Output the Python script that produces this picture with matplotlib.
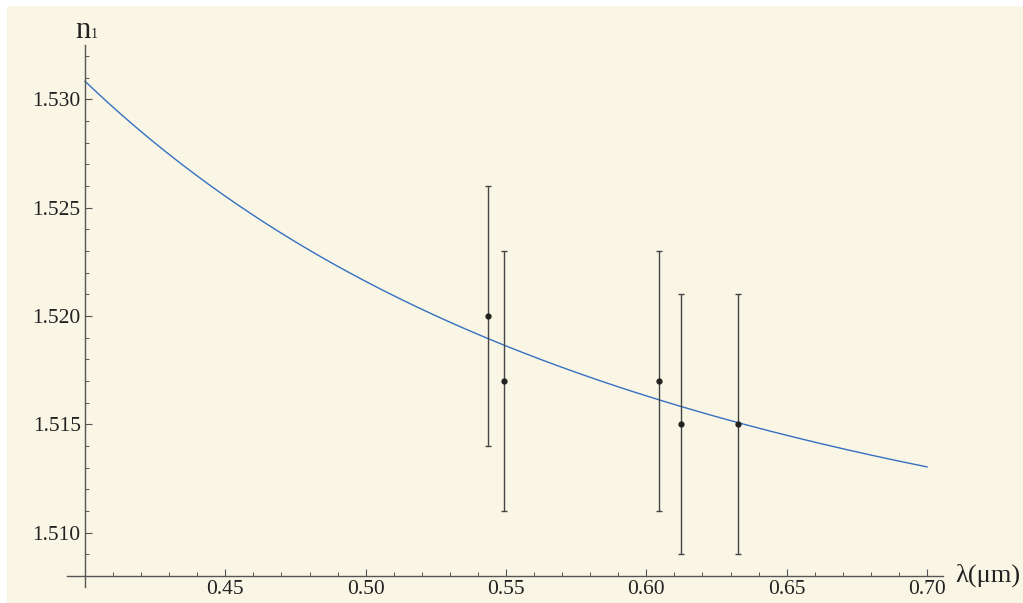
import numpy as np
import matplotlib.pyplot as plt
from matplotlib.patches import Rectangle

# measured points (wavelength in um, index n1, uncertainty)
wavelengths = [0.5435, 0.5494, 0.6046, 0.6124, 0.6328]
n_values = [1.520, 1.517, 1.517, 1.515, 1.515]
n_errors = [0.006, 0.006, 0.006, 0.006, 0.006]

# Cauchy fit n = A + B/l^2 + C/l^4
A, B, C = 1.503615, 0.0047463, -0.0000627
lam_min, lam_max = 0.40, 0.70

x_ticks = [0.45, 0.50, 0.55, 0.60, 0.65, 0.70]
y_ticks = [1.510, 1.515, 1.520, 1.525, 1.530]

plt.rcParams['font.family'] = ['Liberation Serif', 'DejaVu Serif']

bg = '#f9f6e6'
fig = plt.figure(figsize=(10.23, 6.03), dpi=100, facecolor=bg)
# thin white margin at top and left
fig.patches.append(Rectangle((0, 1 - 6 / 603), 1, 6 / 603, transform=fig.transFigure,
                             facecolor='white', edgecolor='none', zorder=-5))
fig.patches.append(Rectangle((0, 0), 7 / 1023, 1, transform=fig.transFigure,
                             facecolor='white', edgecolor='none', zorder=-5))
ax = fig.add_axes([67 / 1023, 1 - 587 / 603, (943 - 67) / 1023, (587 - 45) / 603])
ax.set_facecolor('none')

lam = np.linspace(lam_min, lam_max, 300)
ax.plot(lam, A + B / lam**2 + C / lam**4, color='#3570c0', lw=1.0)

ax.errorbar(wavelengths, n_values, yerr=n_errors, fmt='o', ms=3.5, color='#222222',
            ecolor='#444444', elinewidth=1.0, capsize=2.5, capthick=1.0)

ax.set_xlim(0.3936, 0.7057)
ax.set_ylim(1.5075, 1.5325)

for s in ['top', 'right']:
    ax.spines[s].set_visible(False)
ax.spines['left'].set_position(('data', 0.40))
ax.spines['bottom'].set_position(('data', 1.508))
for s in ['left', 'bottom']:
    ax.spines[s].set_color('#555555')
    ax.spines[s].set_linewidth(1.0)

ax.set_xticks(x_ticks)
ax.set_xticklabels(['%.2f' % v for v in x_ticks])
ax.set_xticks(np.arange(0.41, 0.70, 0.01), minor=True)
ax.set_yticks(y_ticks)
ax.set_yticklabels(['%.3f' % v for v in y_ticks])
ax.set_yticks(np.arange(1.508, 1.5325, 0.001), minor=True)

ax.tick_params(axis='both', which='major', direction='in', length=5, width=0.8,
               color='#555555', labelsize=15.5, labelcolor='#222222', pad=3)
ax.tick_params(axis='both', which='minor', direction='in', length=3, width=0.7,
               color='#555555')

fig.text(955 / 1023, 1 - 575 / 603, 'λ(μm)', fontsize=19, color='#222222',
         ha='left', va='center')
fig.text(75 / 1023, 1 - 30 / 603, 'n', fontsize=22, color='#222222',
         ha='left', va='center')
fig.text(91 / 1023, 1 - 34 / 603, '1', fontsize=10, color='#222222',
         ha='left', va='center')

fig.savefig('out.png', dpi=100, facecolor=fig.get_facecolor())
